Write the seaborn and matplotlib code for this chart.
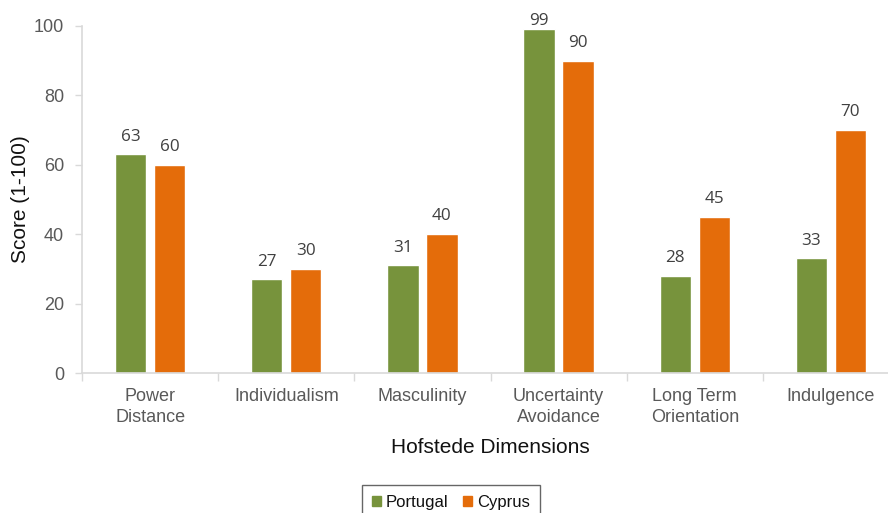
import matplotlib
matplotlib.use("Agg")
import matplotlib.pyplot as plt
import seaborn as sns
import pandas as pd
import numpy as np

dimensions = ["Power\nDistance", "Individualism", "Masculinity",
              "Uncertainty\nAvoidance", "Long Term\nOrientation", "Indulgence"]
portugal = [63, 27, 31, 99, 28, 33]
cyprus = [60, 30, 40, 90, 45, 70]
countries = ["Portugal", "Cyprus"]
colors = ["#77933C", "#E46C0A"]

df = pd.DataFrame({
    "Dimension": dimensions * 2,
    "Country": [countries[0]] * len(dimensions) + [countries[1]] * len(dimensions),
    "Score": portugal + cyprus,
})

sns.set_theme(style="white")
plt.rcParams["font.family"] = ["Liberation Sans", "DejaVu Sans"]

fig = plt.figure(figsize=(8.88, 5.13), dpi=100)
ax = fig.add_axes([82 / 888, 1 - 373 / 513, 817 / 888, (373 - 26) / 513])

sns.barplot(data=df, x="Dimension", y="Score", hue="Country",
            palette=colors, saturation=1, width=0.573, gap=0.2, ax=ax,
            order=dimensions, hue_order=countries, legend=True)

for cont in ax.containers:
    labels = ax.bar_label(cont, fmt="%d", padding=7, fontsize=12.3,
                          color="#404040", family=["Open Sans", "DejaVu Sans"])
    # labels of bars reaching the top of the plot area sit tight on the bar
    for bar, lab in zip(cont, labels):
        if bar.get_height() > 95:
            lab.xyann = (0, 0.5)

ax.set_xlim(-0.5, len(dimensions) - 0.5)
ax.set_ylim(0, 100)
ax.set_yticks(np.arange(0, 101, 20))
ax.tick_params(axis="y", labelsize=13, labelcolor="#595959", length=5,
               color="#D9D9D9", width=1, direction="out", left=True, pad=8)
# category separators on the x axis
ax.set_xticks(np.arange(len(dimensions)))
ax.set_xticklabels(dimensions, fontsize=13, color="#595959", linespacing=1.33)
ax.tick_params(axis="x", length=0, pad=10.5)
ax.set_xticks(np.arange(len(dimensions)) - 0.5, minor=True)
ax.tick_params(axis="x", which="minor", length=6, color="#D9D9D9", width=1,
               direction="out", bottom=True)

for side in ["top", "right"]:
    ax.spines[side].set_visible(False)
for side in ["left", "bottom"]:
    ax.spines[side].set_color("#D9D9D9")
    ax.spines[side].set_linewidth(1.2)

ax.set_ylabel("Score (1-100)", fontsize=15, color="#111111", labelpad=3)
ax.set_xlabel("Hofstede Dimensions", fontsize=15, color="#111111", labelpad=9)

ax.get_legend().remove()
handles = [plt.Rectangle((0, 0), 1, 1, color=c) for c in colors]
leg = fig.legend(handles, countries, loc="upper center",
                 bbox_to_anchor=(451 / 888, 1 - 485 / 513), borderaxespad=0,
                 ncol=2, fontsize=12, frameon=True, fancybox=False,
                 handlelength=0.5, handleheight=0.5, handletextpad=0.3,
                 columnspacing=0.9, borderpad=0.6)
leg.get_frame().set_edgecolor("#404040")
leg.get_frame().set_linewidth(1.0)
for t in leg.get_texts():
    t.set_color("#111111")

fig.savefig("out.png", dpi=100)
